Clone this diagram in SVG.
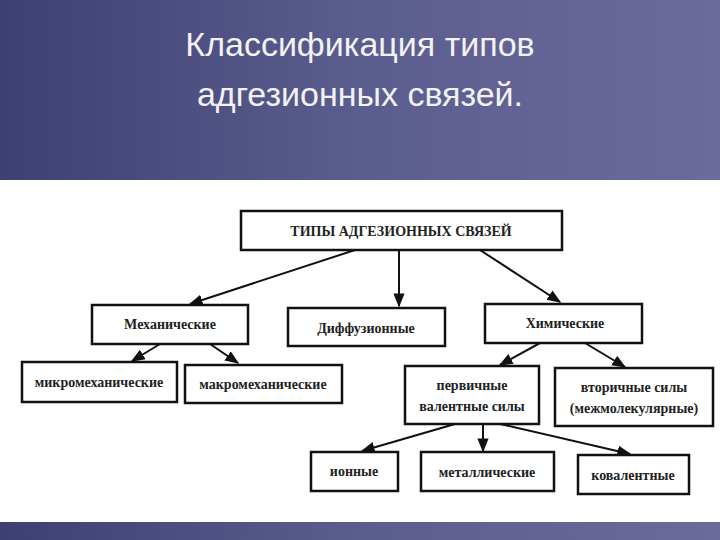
<svg xmlns="http://www.w3.org/2000/svg" width="720" height="540" viewBox="0 0 720 540">
<defs>
<linearGradient id="bg" x1="0" y1="0" x2="1" y2="0"><stop offset="0" stop-color="#3e3f72"/><stop offset="0.5" stop-color="#5c5d8f"/><stop offset="1" stop-color="#6a6b9a"/></linearGradient>
<marker id="ar" viewBox="0 0 10 10" refX="9" refY="5" markerWidth="7" markerHeight="7" orient="auto"><path d="M0,1 L10,5 L0,9 z" fill="#111"/></marker>
<style>
.b{fill:#fff;stroke:#111;stroke-width:2.5}
.t{font-family:"Liberation Serif",serif;font-size:14px;font-weight:bold;fill:#222;text-anchor:middle}
.c line{stroke:#111;stroke-width:2;marker-end:url(#ar)}
.h{font-family:"Liberation Sans",sans-serif;font-size:34px;fill:#f2f2f5;text-anchor:middle}
</style>
</defs>
<rect width="720" height="540" fill="url(#bg)"/>
<rect x="0" y="180" width="720" height="342" fill="#fff"/>
<text class="h" x="360" y="56">Классификация типов</text>
<text class="h" x="360" y="106">адгезионных связей.</text>
<g class="c">
<line x1="355" y1="250" x2="190" y2="304"/>
<line x1="399" y1="250" x2="399" y2="306"/>
<line x1="480" y1="250" x2="560" y2="302"/>
<line x1="160" y1="344" x2="132" y2="361"/>
<line x1="210" y1="344" x2="238" y2="363"/>
<line x1="540" y1="343" x2="500" y2="365"/>
<line x1="585" y1="343" x2="625" y2="367"/>
<line x1="455" y1="424" x2="362" y2="451"/>
<line x1="483" y1="424" x2="483" y2="451"/>
<line x1="500" y1="424" x2="630" y2="454"/>
</g>
<g id="top"><rect class="b" x="241" y="211" width="321" height="39"/><text class="t" x="401" y="236" font-size="15">ТИПЫ АДГЕЗИОННЫХ СВЯЗЕЙ</text></g>
<g id="mech"><rect class="b" x="92" y="305" width="156" height="39"/><text class="t" x="170" y="329">Механические</text></g>
<g id="diff"><rect class="b" x="288" y="308" width="157" height="38"/><text class="t" x="366" y="333">Диффузионные</text></g>
<g id="chem"><rect class="b" x="485" y="304" width="157" height="39"/><text class="t" x="565" y="328">Химические</text></g>
<g id="micro"><rect class="b" x="22" y="362" width="155" height="40"/><text class="t" x="99" y="387">микромеханические</text></g>
<g id="macro"><rect class="b" x="185" y="365" width="157" height="38"/><text class="t" x="263" y="389">макромеханические</text></g>
<g id="prim"><rect class="b" x="405" y="366" width="134" height="58"/><text class="t" x="472" y="390">первичные</text><text class="t" x="472" y="411">валентные силы</text></g>
<g id="sec"><rect class="b" x="555" y="368" width="158" height="58"/><text class="t" x="634" y="392">вторичные силы</text><text class="t" x="634" y="413">(межмолекулярные)</text></g>
<g id="ion"><rect class="b" x="311" y="452" width="87" height="39"/><text class="t" x="354" y="476">ионные</text></g>
<g id="met"><rect class="b" x="421" y="452" width="133" height="39"/><text class="t" x="487" y="477">металлические</text></g>
<g id="cov"><rect class="b" x="578" y="455" width="111" height="39"/><text class="t" x="633" y="480">ковалентные</text></g>
</svg>
